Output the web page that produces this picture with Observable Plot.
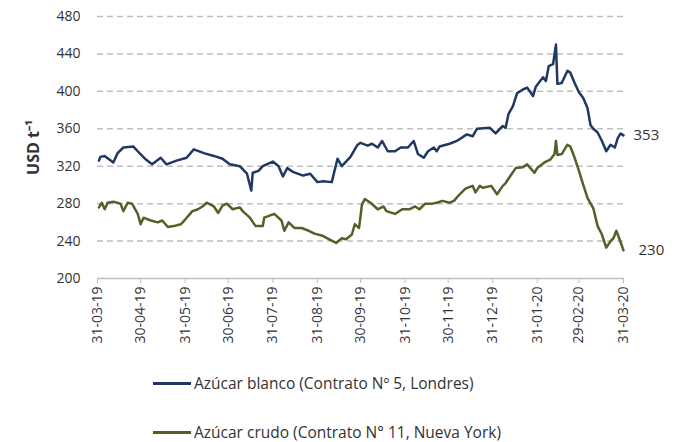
<!DOCTYPE html>
<html>
<head>
<meta charset="utf-8">
<script src="https://cdn.jsdelivr.net/npm/d3@7"></script>
<script src="https://cdn.jsdelivr.net/npm/@observablehq/plot@0.6"></script>
<style>
  html, body { margin: 0; padding: 0; background: #fff; overflow: hidden; }
  #chart { width: 679px; height: 360px; font-family: "Open Sans", sans-serif; }
  #chart svg [aria-label="y-axis label"] text { font-weight: bold; font-size: 16px; }
  .legend { position: relative; height: 82px; font-family: "Open Sans", sans-serif; font-size: 15.5px; line-height: 16px; color: #333; }
  .legend .item { position: absolute; left: 153px; display: flex; align-items: center; height: 16px; }
  .legend .swatch { width: 38px; height: 3px; margin-right: 3px; }
</style>
</head>
<body>
<div id="chart"></div>
<script>
const seriesNames = ["Azúcar blanco (Contrato Nº 5, Londres)", "Azúcar crudo (Contrato N° 11, Nueva York)"];
const seriesColors = ["#1f3864", "#4f6228"];

const blancoDates = ["2019-04-01","2019-04-02","2019-04-05","2019-04-11","2019-04-14","2019-04-18","2019-04-25","2019-04-28","2019-05-03","2019-05-08","2019-05-14","2019-05-18","2019-05-25","2019-06-01","2019-06-06","2019-06-13","2019-06-20","2019-06-26","2019-07-01","2019-07-08","2019-07-13","2019-07-16","2019-07-17","2019-07-21","2019-07-24","2019-07-31","2019-08-04","2019-08-07","2019-08-10","2019-08-14","2019-08-21","2019-08-26","2019-08-31","2019-09-04","2019-09-10","2019-09-14","2019-09-17","2019-09-23","2019-09-28","2019-09-30","2019-10-05","2019-10-08","2019-10-12","2019-10-15","2019-10-19","2019-10-24","2019-10-28","2019-11-02","2019-11-06","2019-11-09","2019-11-13","2019-11-16","2019-11-20","2019-11-22","2019-11-24","2019-12-01","2019-12-06","2019-12-13","2019-12-17","2019-12-20","2019-12-29","2020-01-02","2020-01-07","2020-01-09","2020-01-11","2020-01-14","2020-01-17","2020-01-21","2020-01-24","2020-01-28","2020-01-30","2020-02-02","2020-02-04","2020-02-06","2020-02-08","2020-02-11","2020-02-13","2020-02-14","2020-02-17","2020-02-21","2020-02-23","2020-02-26","2020-02-29","2020-03-03","2020-03-06","2020-03-08","2020-03-10","2020-03-13","2020-03-16","2020-03-19","2020-03-22","2020-03-25","2020-03-27","2020-03-29","2020-03-31"];
const blancoValues = [326,330,331,324,334,340,341,336,328,322,329,322,326,329,338,334,331,328,322,320,312,294,313,315,320,325,320,309,318,314,310,312,303,304,303,328,320,330,343,345,342,344,340,347,336,336,340,340,347,333,329,336,340,336,341,344,347,354,352,360,361,355,363,361,376,384,398,402,404,395,405,411,415,411,427,429,450,408,409,422,420,409,399,393,382,364,360,356,347,336,343,340,350,355,353];

const crudoDates = ["2019-04-01","2019-04-03","2019-04-05","2019-04-07","2019-04-11","2019-04-16","2019-04-18","2019-04-21","2019-04-24","2019-04-28","2019-04-30","2019-05-02","2019-05-07","2019-05-12","2019-05-15","2019-05-19","2019-05-23","2019-05-28","2019-05-31","2019-06-05","2019-06-09","2019-06-12","2019-06-15","2019-06-20","2019-06-23","2019-06-26","2019-06-29","2019-07-03","2019-07-08","2019-07-10","2019-07-15","2019-07-19","2019-07-24","2019-07-25","2019-08-01","2019-08-06","2019-08-08","2019-08-11","2019-08-15","2019-08-20","2019-08-25","2019-08-29","2019-09-03","2019-09-08","2019-09-13","2019-09-17","2019-09-20","2019-09-24","2019-09-26","2019-09-29","2019-10-01","2019-10-03","2019-10-07","2019-10-12","2019-10-16","2019-10-18","2019-10-24","2019-10-29","2019-11-03","2019-11-07","2019-11-10","2019-11-14","2019-11-19","2019-11-22","2019-11-26","2019-12-01","2019-12-04","2019-12-08","2019-12-12","2019-12-17","2019-12-19","2019-12-22","2019-12-24","2019-12-30","2020-01-03","2020-01-07","2020-01-09","2020-01-12","2020-01-16","2020-01-21","2020-01-24","2020-01-29","2020-01-31","2020-02-05","2020-02-09","2020-02-12","2020-02-13","2020-02-14","2020-02-17","2020-02-21","2020-02-23","2020-02-26","2020-02-29","2020-03-03","2020-03-06","2020-03-10","2020-03-13","2020-03-16","2020-03-19","2020-03-22","2020-03-24","2020-03-26","2020-03-28","2020-03-31"];
const crudoValues = [276,281,274,281,282,280,272,281,280,269,258,265,262,260,262,255,256,258,263,272,274,277,281,277,270,278,280,274,276,272,265,256,256,265,269,262,251,260,254,254,251,248,246,242,238,243,242,247,258,254,279,285,281,274,277,272,269,274,274,277,274,280,280,281,283,281,283,290,296,299,292,299,297,299,290,299,302,309,318,319,322,313,318,324,327,333,347,332,333,343,341,329,315,300,286,275,256,247,233,240,243,251,243,230];

const yTicks = [200, 240, 280, 320, 360, 400, 440, 480];
const xTickDates = ["2019-03-31","2019-04-30","2019-05-31","2019-06-30","2019-07-31","2019-08-31","2019-09-30","2019-10-31","2019-11-30","2019-12-31","2020-01-31","2020-02-29","2020-03-31"];

const parse = d3.utcParse("%Y-%m-%d");
const data = [
  ...blancoDates.map((d, i) => ({date: parse(d), value: blancoValues[i], serie: seriesNames[0]})),
  ...crudoDates.map((d, i) => ({date: parse(d), value: crudoValues[i], serie: seriesNames[1]}))
];
const lastBlanco = [{date: parse(blancoDates[blancoDates.length - 1]), value: blancoValues[blancoValues.length - 1]}];
const lastCrudo = [{date: parse(crudoDates[crudoDates.length - 1]), value: crudoValues[crudoValues.length - 1]}];

const chart = Plot.plot({
  width: 679,
  height: 360,
  marginTop: 16,
  marginBottom: 82,
  marginLeft: 97,
  marginRight: 56,
  style: {fontFamily: "Open Sans, sans-serif", fontSize: "13.5px", color: "#333"},
  x: {type: "utc", domain: [parse(xTickDates[0]), parse(xTickDates[xTickDates.length - 1])]},
  y: {domain: [200, 480]},
  color: {domain: seriesNames, range: seriesColors},
  marks: [
    Plot.ruleY(yTicks.filter(v => v > 200), {stroke: "#bfbfbf", strokeWidth: 1.5, strokeDasharray: "6,4"}),
    Plot.ruleY([200], {stroke: "#bfbfbf", strokeWidth: 1.5}),
    Plot.axisY({ticks: yTicks, tickSize: 0, tickPadding: 17, label: "USD t⁻¹", labelAnchor: "center", labelArrow: "none", labelOffset: 70, fill: "#333", fontSize: 14}),
    Plot.axisX({ticks: xTickDates.map(parse), tickFormat: d3.utcFormat("%d-%m-%y"), tickRotate: -90, tickSize: 5, tickPadding: 3, stroke: "#bfbfbf", fill: "#333", label: null, fontSize: 14}),
    Plot.line(data, {x: "date", y: "value", z: "serie", stroke: "serie", strokeWidth: 2.5}),
    Plot.text(lastBlanco, {x: "date", y: "value", text: d => String(d.value), dx: 10, textAnchor: "start", fill: "#333", fontSize: 15}),
    Plot.text(lastCrudo, {x: "date", y: "value", text: d => String(d.value), dx: 15, textAnchor: "start", fill: "#333", fontSize: 15})
  ]
});
document.getElementById("chart").appendChild(chart);
</script>
<div class="legend">
  <div class="item" style="top:15px"><span class="swatch" style="background:#1f3864"></span><span>Azúcar blanco (Contrato Nº 5, Londres)</span></div>
  <div class="item" style="top:64px"><span class="swatch" style="background:#4f6228"></span><span>Azúcar crudo (Contrato N° 11, Nueva York)</span></div>
</div>
</body>
</html>
